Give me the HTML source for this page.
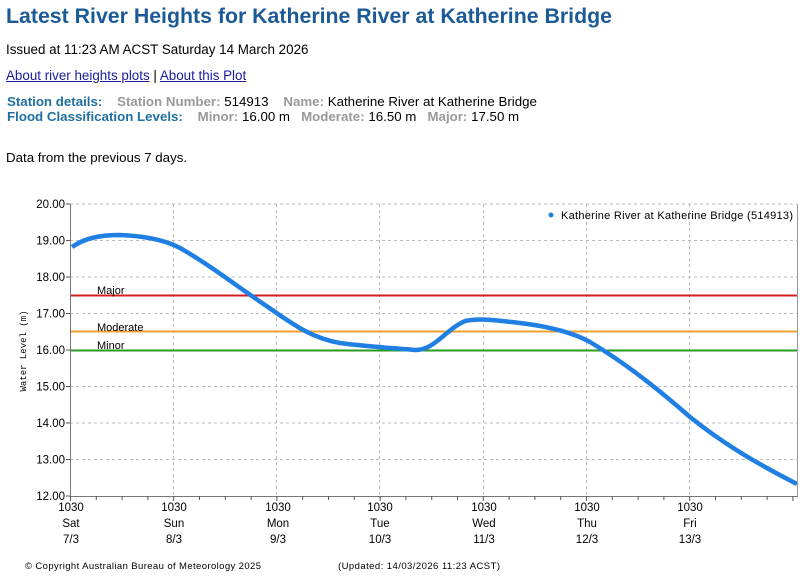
<!DOCTYPE html>
<html><head><meta charset="utf-8"><style>
body{margin:0;width:806px;height:586px;background:#fff;font-family:"Liberation Sans",sans-serif;position:relative;overflow:hidden}
.a{position:absolute;white-space:nowrap}
h1{position:absolute;left:6px;top:4px;margin:0;font-size:21.3px;color:#1b5a96;font-weight:bold}
a{color:#1a1a9c}
.b{color:#1f6f9f;font-weight:bold}
.g{color:#999;font-weight:bold}
</style></head><body>
<h1>Latest River Heights for Katherine River at Katherine Bridge</h1>
<div class="a" style="left:6px;top:42px;font-size:13.4px">Issued at 11:23 AM ACST Saturday 14 March 2026</div>
<div class="a" style="left:6px;top:68px;font-size:13.4px"><a href="#">About river heights plots</a> | <a href="#">About this Plot</a></div>
<div class="a" style="left:7px;top:94px;font-size:13.3px"><span class="b">Station details:</span>&nbsp;&nbsp;&nbsp;&nbsp;<span class="g">Station Number:</span> 514913&nbsp;&nbsp;&nbsp;&nbsp;<span class="g">Name:</span> Katherine River at Katherine Bridge</div>
<div class="a" style="left:7px;top:109px;font-size:13.3px"><span class="b">Flood Classification Levels:</span>&nbsp;&nbsp;&nbsp;&nbsp;<span class="g">Minor:</span> 16.00 m&nbsp;&nbsp;&nbsp;<span class="g">Moderate:</span> 16.50 m&nbsp;&nbsp;&nbsp;<span class="g">Major:</span> 17.50 m</div>
<div class="a" style="left:6px;top:150px;font-size:13.3px">Data from the previous 7 days.</div>
<svg class="a" style="left:0;top:0" width="806" height="586" font-family="Liberation Sans, sans-serif">
<g stroke="#bbb" stroke-dasharray="3,3" stroke-width="1">
<line x1="70" x2="797" y1="240.5" y2="240.5"/><line x1="70" x2="797" y1="277" y2="277"/><line x1="70" x2="797" y1="313.5" y2="313.5"/><line x1="70" x2="797" y1="350" y2="350"/><line x1="70" x2="797" y1="386.5" y2="386.5"/><line x1="70" x2="797" y1="423" y2="423"/><line x1="70" x2="797" y1="459.5" y2="459.5"/><line x1="70" x2="797" y1="204" y2="204"/>
<line x1="173.5" x2="173.5" y1="204" y2="496"/><line x1="276.5" x2="276.5" y1="204" y2="496"/><line x1="379.5" x2="379.5" y1="204" y2="496"/><line x1="483.5" x2="483.5" y1="204" y2="496"/><line x1="586.5" x2="586.5" y1="204" y2="496"/><line x1="689.5" x2="689.5" y1="204" y2="496"/>
</g>
<line x1="70" x2="797" y1="295.5" y2="295.5" stroke="#d42020" stroke-width="2"/>
<line x1="70" x2="797" y1="331.5" y2="331.5" stroke="#f0a030" stroke-width="2"/>
<line x1="70" x2="797" y1="350.5" y2="350.5" stroke="#2a9a20" stroke-width="2"/>
<g font-size="11" fill="#000"><text x="97" y="294">Major</text><text x="97" y="331">Moderate</text><text x="97" y="349">Minor</text></g>
<path fill="none" stroke="#1f7fe3" stroke-width="4.5" stroke-linejoin="round" d="M72,247 C85,238 100,235 120,235 C145,236 165,240 180,248 C210,265 235,285 265,305 C290,322 310,338 340,343 C370,347 395,348 415,350 C435,350 445,330 465,321 C480,318 495,320 520,323 C545,326 570,331 590,342 C620,360 650,382 690,417 C720,441 750,460 797,484"/>
<line x1="70.5" x2="70.5" y1="204" y2="497" stroke="#777"/>
<line x1="797.5" x2="797.5" y1="204" y2="497" stroke="#999"/>
<line x1="70" x2="798" y1="496.5" y2="496.5" stroke="#777"/>
<g stroke="#555">
<line x1="66" x2="70" y1="204" y2="204"/><line x1="66" x2="70" y1="240.5" y2="240.5"/><line x1="66" x2="70" y1="277" y2="277"/><line x1="66" x2="70" y1="313.5" y2="313.5"/><line x1="66" x2="70" y1="350" y2="350"/><line x1="66" x2="70" y1="386.5" y2="386.5"/><line x1="66" x2="70" y1="423" y2="423"/><line x1="66" x2="70" y1="459.5" y2="459.5"/><line x1="66" x2="70" y1="496" y2="496"/>
</g>
<g stroke="#555" id="t"></g>
<g font-size="11.5" text-anchor="end" fill="#000">
<text x="65" y="208">20.00</text><text x="65" y="244.5">19.00</text><text x="65" y="281">18.00</text><text x="65" y="317.5">17.00</text><text x="65" y="354">16.00</text><text x="65" y="390.5">15.00</text><text x="65" y="427">14.00</text><text x="65" y="463.5">13.00</text><text x="65" y="500">12.00</text>
</g>
<text transform="translate(26,351) rotate(-90)" font-size="9" font-family="Liberation Mono, monospace" text-anchor="middle">Water Level (m)</text>
<g font-size="11.5" text-anchor="middle">
<text x="71" y="511">1030</text><text x="71" y="527">Sat</text><text x="71" y="543">7/3</text>
<text x="174" y="511">1030</text><text x="174" y="527">Sun</text><text x="174" y="543">8/3</text>
<text x="278" y="511">1030</text><text x="278" y="527">Mon</text><text x="278" y="543">9/3</text>
<text x="380" y="511">1030</text><text x="380" y="527">Tue</text><text x="380" y="543">10/3</text>
<text x="484" y="511">1030</text><text x="484" y="527">Wed</text><text x="484" y="543">11/3</text>
<text x="587" y="511">1030</text><text x="587" y="527">Thu</text><text x="587" y="543">12/3</text>
<text x="690" y="511">1030</text><text x="690" y="527">Fri</text><text x="690" y="543">13/3</text>
</g>
<circle cx="551" cy="215" r="2.5" fill="#1f7fe3"/>
<text x="561" y="219" font-size="11" textLength="232">Katherine River at Katherine Bridge (514913)</text>
<text x="25" y="569" font-size="9.5" textLength="236">© Copyright Australian Bureau of Meteorology 2025</text>
<text x="338" y="569" font-size="9.5" textLength="162">(Updated: 14/03/2026 11:23 ACST)</text>
</svg>
<script>
var g=document.getElementById('t'),s='';
for(var i=0;i<29;i++){var x=70.5+i*25.8;if(x>798)break;s+='<line x1="'+x+'" x2="'+x+'" y1="496" y2="'+(i%4?500:501)+'"/>';}
g.innerHTML=s;
</script>
</body></html>
